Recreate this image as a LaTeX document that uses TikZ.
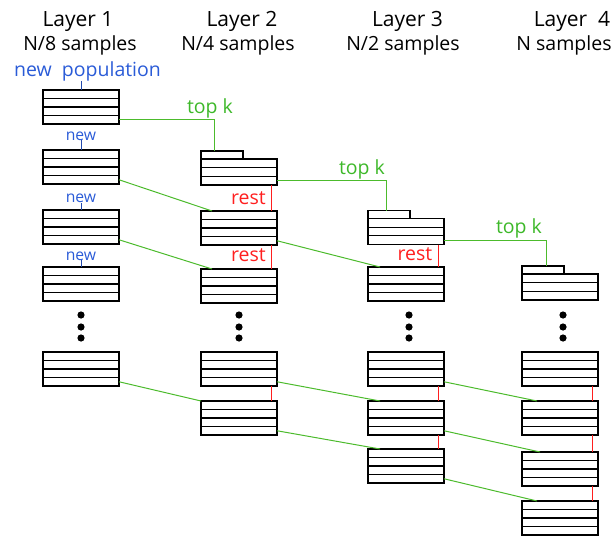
\documentclass[tikz,border=0pt]{standalone}
\usepackage{fontspec}
\setmainfont{Open Sans}
\definecolor{cblue}{HTML}{2A5BD7}
\definecolor{cgreen}{HTML}{3DB829}
\definecolor{lgreen}{HTML}{4CBB2C}
\definecolor{cred}{HTML}{FF1F1F}
\begin{document}
\begin{tikzpicture}[x=1pt,y=-1pt,
  box/.style={draw=black, line width=1.3pt, fill=white, minimum width=76pt, minimum height=34pt,
    inner sep=0pt, outer sep=0pt,
    path picture={\foreach \i in {1,2,3} \draw[line width=1.3pt] ([yshift=-\i*8.5pt]path picture bounding box.north west) -- ([yshift=-\i*8.5pt]path picture bounding box.north east);}},
  tbox/.style={draw=black, line width=1.3pt, fill=white, minimum width=76pt, minimum height=26pt,
    inner sep=0pt, outer sep=0pt,
    path picture={\foreach \i in {1,2} \draw[line width=1.3pt] ([yshift=-\i*8.67pt]path picture bounding box.north west) -- ([yshift=-\i*8.67pt]path picture bounding box.north east);}},
  tabbox/.style={draw=black, line width=1.3pt, fill=white, minimum width=42pt, minimum height=8pt,
    inner sep=0pt, outer sep=0pt, anchor=south west},
  hdr/.style={font=\fontsize{21}{25}\selectfont, anchor=base, inner sep=0pt},
  sub/.style={font=\fontsize{19.5}{23}\selectfont, anchor=base, inner sep=0pt},
  bluelbl/.style={font=\fontsize{19.5}{23}\selectfont, anchor=base, inner sep=0pt, text=cblue},
  smallnew/.style={font=\fontsize{15.7}{19}\selectfont, anchor=base, inner sep=0pt, text=cblue},
  topk/.style={font=\fontsize{19.5}{23}\selectfont, anchor=base, inner sep=0pt, text=cgreen},
  restlbl/.style={font=\fontsize{19.5}{23}\selectfont, anchor=base east, inner sep=0pt, text=cred},
  gline/.style={draw=lgreen, line width=1pt},
  rline/.style={draw=cred, line width=0.9pt},
  bline/.style={draw=cblue!80!black, line width=1pt},
  dot/.style={fill=black}
]
\useasboundingbox (0,0) rectangle (616,538);

% headers
\node[hdr] (h1) at (78,26.7) {Layer 1};
\node[sub] (s1) at (80,50) {N/8 samples};
\node[hdr] (h2) at (242,26.7) {Layer 2};
\node[sub] (s2) at (238,50) {N/4 samples};
\node[hdr] (h3) at (407.5,26.7) {Layer 3};
\node[sub] (s3) at (403,50) {N/2 samples};
\node[hdr] (h4) at (572,26.7) {Layer\ \ 4};
\node[sub] (s4) at (564,50) {N samples};

% layer 1
\node[box] (a1) at (81,107) {};
\node[box] (a2) at (81,167) {};
\node[box] (a3) at (81,227) {};
\node[box] (a4) at (81,284) {};
\node[box] (a5) at (81,369) {};
% layer 2
\node[tbox] (b1) at (239,172) {};
\node[tabbox] (b1t) at (b1.north west) {};
\node[box] (b2) at (239,228) {};
\node[box] (b3) at (239,286) {};
\node[box] (b4) at (239,369) {};
\node[box] (b5) at (239,418) {};
% layer 3
\node[tbox] (c1) at (406,231.5) {};
\node[tabbox] (c1t) at (c1.north west) {};
\node[box] (c2) at (406,284) {};
\node[box] (c3) at (406,369) {};
\node[box] (c4) at (406,418) {};
\node[box] (c5) at (406,466) {};
% layer 4
\node[tbox] (d1) at (560,287) {};
\node[tabbox] (d1t) at (d1.north west) {};
\node[box] (d2) at (560,369) {};
\node[box] (d3) at (560,418) {};
\node[box] (d4) at (560,469) {};
\node[box] (d5) at (560,518) {};

% dots
\foreach \x in {81,239,409,563}
  \foreach \y in {315,327,338}
    \fill[dot] (\x,\y) circle (3.6pt);

% blue labels
\node[bluelbl] (np) at (87.5,76) {new\ \ population};
\node[smallnew] (n1) at (81,140) {new};
\node[smallnew] (n2) at (81,202.7) {new};
\node[smallnew] (n3) at (81,260) {new};
\draw[bline] (np.south -| a1.north) -- (a1.north);
\draw[bline] (n1.south) -- (a2.north);
\draw[bline] (n2.south) -- (a3.north);
\draw[bline] (n3.south) -- (a4.north);

% top k
\node[topk] (k1) at (210,113.5) {top k};
\node[topk] (k2) at (362,174.2) {top k};
\node[topk] (k3) at (519,233.5) {top k};
\draw[gline] ([yshift=-12.75pt]a1.east) -| ([xshift=-8pt]b1t.north);
\draw[gline] ([yshift=-8.67pt]b1.east) -| ([xshift=-3pt]c1t.north);
\draw[gline] ([yshift=-8.67pt]c1.east) -| ([xshift=3pt]d1t.north);

% diagonal green
\draw[gline] ([yshift=-12.75pt]a2.east) -- ([xshift=-27pt]b2.north);
\draw[gline] ([yshift=-12.75pt]a3.east) -- ([xshift=-27pt]b3.north);
\draw[gline] ([yshift=-12.75pt]b2.east) -- ([xshift=-26pt]c2.north);
\draw[gline] ([yshift=-12.75pt]a5.east) -- (b5.north west);
\draw[gline] ([yshift=-12.75pt]b4.east) -- ([xshift=-26pt]c4.north);
\draw[gline] ([yshift=-12.75pt]b5.east) -- ([xshift=-26pt]c5.north);
\draw[gline] ([yshift=-12.75pt]c3.east) -- ([xshift=-23pt]d3.north);
\draw[gline] ([yshift=-12.75pt]c4.east) -- ([xshift=-20pt]d4.north);
\draw[gline] ([yshift=-12.75pt]c5.east) -- ([xshift=-23pt]d5.north);

% rest
\node[restlbl] (r1) at (266,204) {rest};
\node[restlbl] (r2) at (266,261.7) {rest};
\node[restlbl] (r3) at (432.5,260.7) {rest};
\draw[rline] ([xshift=-6pt]b1.south east) -- ([xshift=-6pt]b2.north east);
\draw[rline] ([xshift=-6pt]b2.south east) -- ([xshift=-6pt]b3.north east);
\draw[rline] ([xshift=-6pt]c1.south east) -- ([xshift=-6pt]c2.north east);
\draw[rline] ([xshift=-6pt]b4.south east) -- ([xshift=-6pt]b5.north east);
\draw[rline] ([xshift=-6pt]c3.south east) -- ([xshift=-6pt]c4.north east);
\draw[rline] ([xshift=-6pt]c4.south east) -- ([xshift=-6pt]c5.north east);
\draw[rline] ([xshift=-6pt]d2.south east) -- ([xshift=-6pt]d3.north east);
\draw[rline] ([xshift=-6pt]d3.south east) -- ([xshift=-6pt]d4.north east);
\draw[rline] ([xshift=-6pt]d4.south east) -- ([xshift=-6pt]d5.north east);
\end{tikzpicture}
\end{document}
